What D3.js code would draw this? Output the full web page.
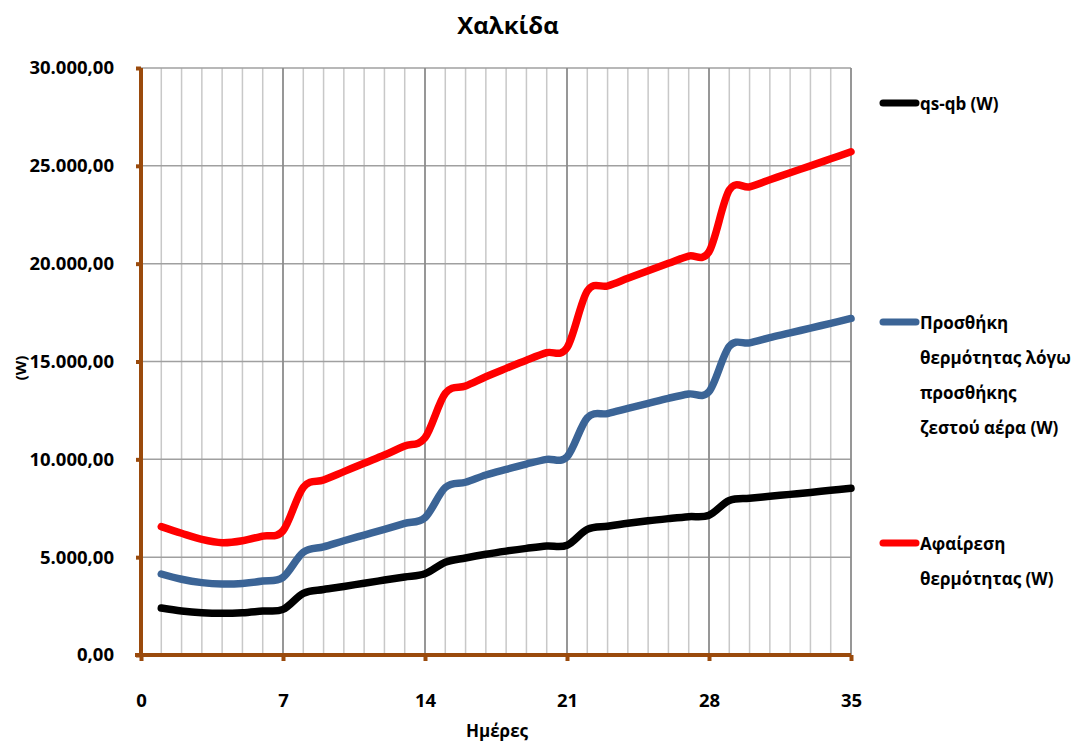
<!DOCTYPE html>
<html>
<head>
<meta charset="utf-8">
<script src="https://cdn.jsdelivr.net/npm/d3@7"></script>
<style>
  html, body { margin: 0; padding: 0; background: #fff; }
  svg { display: block; }
  text { font-family: "Open Sans", "Noto Sans", sans-serif; font-weight: bold; fill: #000; }
</style>
</head>
<body>
<svg id="chart" width="1089" height="748"></svg>
<script>
const title = "Χαλκίδα";
const xTitle = "Ημέρες";
const yTitle = "(W)";
const days = [1,2,3,4,5,6,7,8,9,10,11,12,13,14,15,16,17,18,19,20,21,22,23,24,25,26,27,28,29,30,31,32,33,34,35];
const xTicks = [0, 7, 14, 21, 28, 35];
const yTicks = [0, 5000, 10000, 15000, 20000, 25000, 30000];
const seriesNames = ["qs-qb (W)", "Προσθήκη θερμότητας λόγω προσθήκης ζεστού αέρα (W)", "Αφαίρεση θερμότητας (W)"];
const qsqb = [2400,2250,2160,2130,2160,2250,2330,3150,3350,3500,3670,3830,3990,4150,4740,4960,5150,5310,5450,5570,5610,6420,6580,6730,6860,6970,7070,7140,7900,8010,8110,8210,8310,8420,8520];
const heatAdd = [4140,3870,3700,3630,3660,3780,3970,5250,5530,5840,6130,6420,6730,7020,8560,8830,9200,9490,9760,10000,10130,12120,12340,12600,12860,13120,13340,13460,15770,15950,16220,16460,16710,16950,17200];
const heatRemove = [6560,6220,5910,5740,5840,6080,6350,8570,8940,9370,9800,10220,10680,11100,13370,13750,14220,14650,15070,15450,15700,18600,18860,19250,19640,20020,20390,20610,23760,23930,24290,24650,25000,25360,25720];
const legendLines = [["qs-qb (W)"], ["Προσθήκη", "θερμότητας λόγω", "προσθήκης", "ζεστού αέρα (W)"], ["Αφαίρεση", "θερμότητας (W)"]];
const colors = ["#000000", "#3b6496", "#ff0000"];

const svg = d3.select("#chart");
const x = d3.scaleLinear().domain([0, 35]).range([141, 851]);
const y = d3.scaleLinear().domain([0, 30000]).range([655, 68]);
const locale = d3.formatLocale({decimal: ",", thousands: ".", grouping: [3], currency: ["", ""]});
const fmt = locale.format(",.2f");
const axisColor = "#9a4a0c";

// grid: minor verticals
const minor = d3.range(1, 35).filter(d => d % 7 !== 0);
svg.append("g").selectAll("line").data(minor).join("line")
  .attr("x1", d => x(d)).attr("x2", d => x(d))
  .attr("y1", y(30000)).attr("y2", y(0))
  .attr("stroke", "#c8c8c8").attr("stroke-width", 1.5);
// horizontal grid
svg.append("g").selectAll("line").data(yTicks.filter(d => d > 0)).join("line")
  .attr("x1", x(0)).attr("x2", x(35))
  .attr("y1", d => y(d)).attr("y2", d => y(d))
  .attr("stroke", "#a0a0a0").attr("stroke-width", 1.5);
// major verticals
svg.append("g").selectAll("line").data(xTicks.filter(d => d > 0)).join("line")
  .attr("x1", d => x(d)).attr("x2", d => x(d))
  .attr("y1", y(30000)).attr("y2", y(0))
  .attr("stroke", "#8c8c8c").attr("stroke-width", 1.8);

// axes
const yAxis = d3.axisLeft(y).tickValues(yTicks).tickSize(5).tickFormat(fmt);
const gy = svg.append("g").attr("transform", `translate(${x(0)},0)`).call(yAxis);
gy.select(".domain").attr("stroke", axisColor).attr("stroke-width", 4).attr("d", `M0,${y(30000)}V${y(0)+2}`);
gy.selectAll(".tick line").attr("stroke", axisColor).attr("stroke-width", 4);
gy.selectAll(".tick text").attr("x", -27).attr("font-size", 18.5).attr("font-family", null).attr("fill", "#000");

const xAxis = d3.axisBottom(x).tickValues(xTicks).tickSize(6).tickFormat(d3.format("d"));
const gx = svg.append("g").attr("transform", `translate(0,${y(0)})`).call(xAxis);
gx.select(".domain").attr("stroke", axisColor).attr("stroke-width", 4).attr("d", `M${x(0)-6},0H${x(35)}`);
gx.selectAll(".tick line").attr("stroke", axisColor).attr("stroke-width", 4);
gx.selectAll(".tick text").attr("y", 44).attr("font-size", 18.5).attr("font-family", null).attr("fill", "#000")
  .attr("dy", null).attr("dominant-baseline", "central");

// lines
const line = d3.line().x((d, i) => x(days[i])).y(d => y(d)).curve(d3.curveCardinal.tension(0));
[qsqb, heatAdd, heatRemove].forEach((s, i) => {
  svg.append("path").datum(s).attr("d", line)
    .attr("fill", "none").attr("stroke", colors[i]).attr("stroke-width", 7.5)
    .attr("stroke-linejoin", "round").attr("stroke-linecap", "round");
});

// titles
svg.append("text").attr("x", 508).attr("y", 24).attr("text-anchor", "middle")
  .attr("dominant-baseline", "central").attr("font-size", 24).text(title);
svg.append("text").attr("x", 497).attr("y", 730).attr("text-anchor", "middle")
  .attr("dominant-baseline", "central").attr("font-size", 17).text(xTitle);
svg.append("text").attr("transform", "translate(20,368) rotate(-90)").attr("text-anchor", "middle")
  .attr("dominant-baseline", "central").attr("font-size", 15).text(yTitle);

// legend
const legendTop = [103, 322, 543];
const lg = svg.append("g");
legendLines.forEach((lines, i) => {
  lg.append("line").attr("x1", 883).attr("x2", 916)
    .attr("y1", legendTop[i]).attr("y2", legendTop[i])
    .attr("stroke", colors[i]).attr("stroke-width", 7).attr("stroke-linecap", "round");
  lines.forEach((t, j) => {
    lg.append("text").attr("x", 920).attr("y", legendTop[i] + j * 35.3)
      .attr("dominant-baseline", "central").attr("font-size", 17).text(t);
  });
});
</script>
</body>
</html>
